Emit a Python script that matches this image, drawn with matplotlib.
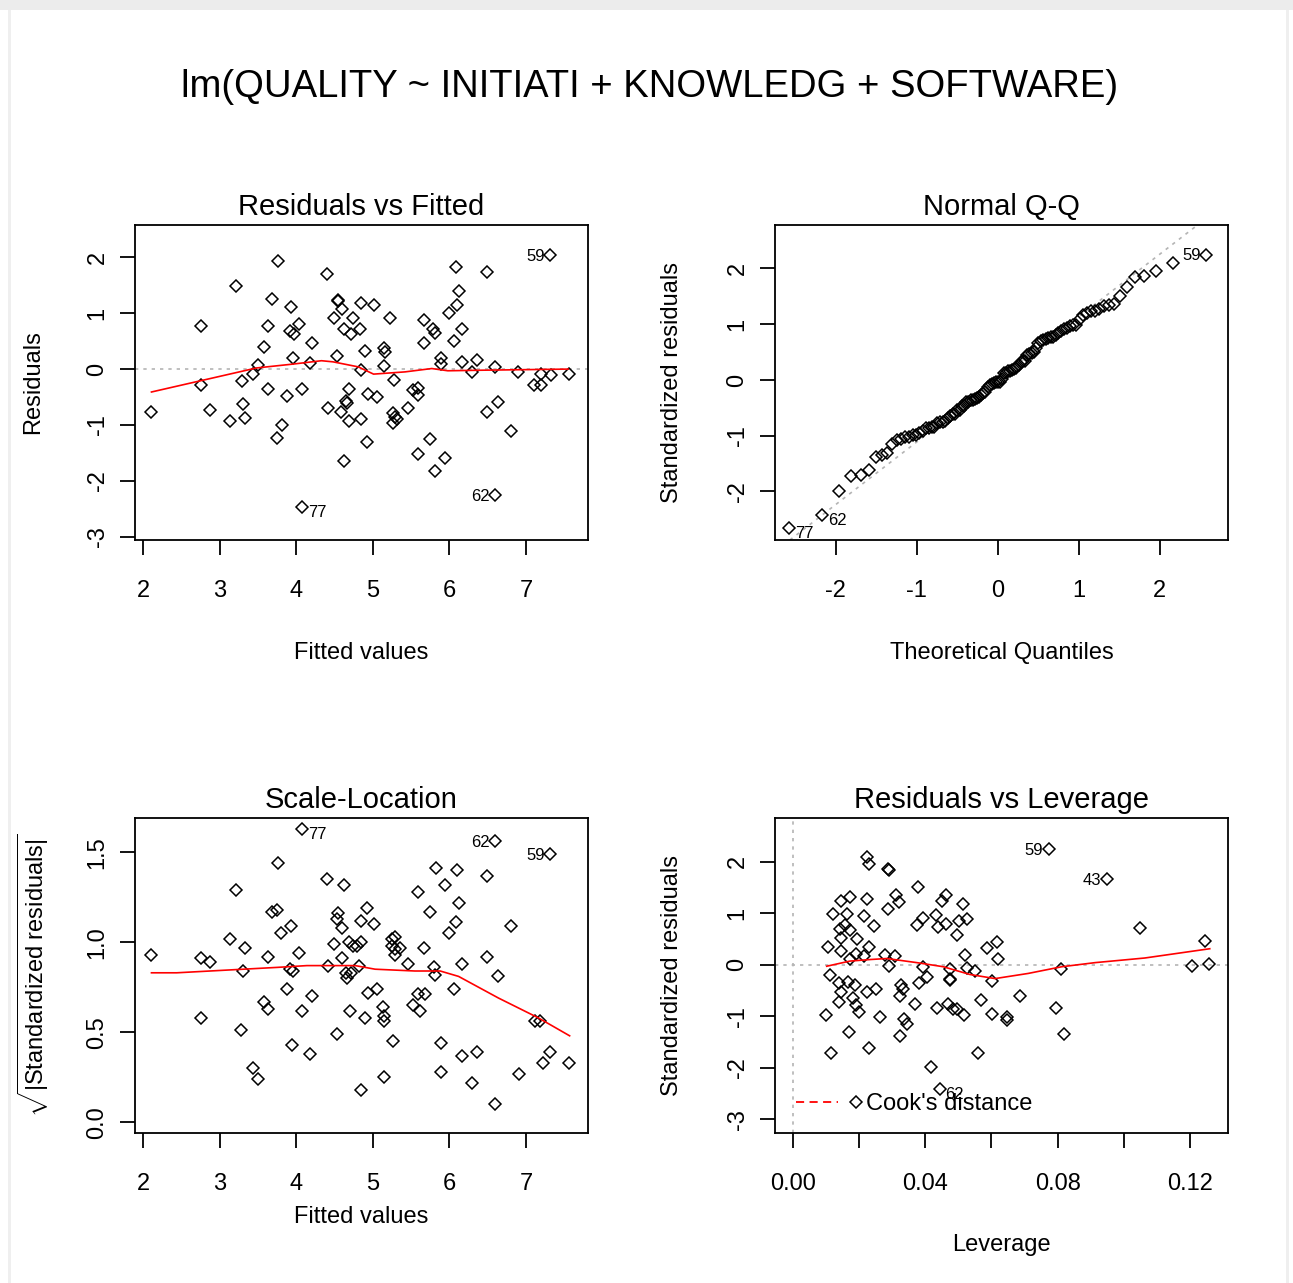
import numpy as np
import matplotlib
matplotlib.use("Agg")
import matplotlib.pyplot as plt
from matplotlib.lines import Line2D
from matplotlib.patches import Rectangle
from statistics import NormalDist

plt.rcParams["font.family"] = ["Liberation Sans", "DejaVu Sans"]
plt.rcParams["mathtext.fontset"] = "custom"
plt.rcParams["mathtext.rm"] = "Liberation Sans"
plt.rcParams["mathtext.it"] = "Liberation Sans:italic"
plt.rcParams["axes.unicode_minus"] = False

main_title = "lm(QUALITY ~ INITIATI + KNOWLEDG + SOFTWARE)"

# --- Residuals vs Fitted ---
fitted = [2.11, 2.76, 2.76, 2.88, 3.21, 3.13, 3.29, 3.31, 3.33, 3.44, 3.50, 3.58, 3.63, 3.63,
          3.68, 3.76, 3.75, 3.81, 3.88, 3.93, 3.92, 3.97, 4.03, 3.96, 4.08, 4.18, 4.20, 4.08,
          4.40, 4.42, 4.53, 4.49, 4.54, 4.55, 4.60, 4.62, 4.65, 4.66, 4.59, 4.69, 4.69, 4.63,
          4.74, 4.72,
          4.85, 5.02, 4.83, 4.90, 4.85, 4.94, 5.05, 4.85, 4.93, 5.22, 5.14, 5.16, 5.14, 5.28,
          5.26, 5.29, 5.26, 5.32, 5.46, 5.53, 5.59, 5.59, 5.67, 5.67, 5.79, 5.81, 5.75, 5.59,
          5.81, 5.94, 5.89, 5.89, 5.99, 6.10, 6.12, 6.09, 6.06, 6.17, 6.17, 6.29, 6.36, 6.49,
          6.59, 6.49, 6.64, 6.60, 6.81, 6.90, 7.11, 7.19, 7.20, 7.33, 7.56, 7.32]
resid = [-0.77, 0.77, -0.29, -0.73, 1.49, -0.93, -0.22, -0.62, -0.87, -0.09, 0.07, 0.40, 0.77, -0.35,
         1.25, 1.93, -1.24, -1.00, -0.49, 1.11, 0.68, 0.63, 0.81, 0.20, -0.35, 0.11, 0.47, -2.47,
         1.70, -0.69, 0.23, 0.91, 1.22, 1.24, 1.08, 0.71, -0.57, -0.60, -0.77, -0.35, -0.93, -1.64,
         0.91, 0.63,
         1.19, 1.14, 0.71, 0.33, -0.02, -0.44, -0.50, -0.90, -1.30, 0.91, 0.37, 0.31, 0.06, -0.19,
         -0.78, -0.85, -0.96, -0.89, -0.69, -0.38, -0.34, -0.46, 0.88, 0.47, 0.71, 0.64, -1.25, -1.52,
         -1.82, -1.59, 0.19, 0.09, 1.01, 1.14, 1.39, 1.83, 0.50, 0.71, 0.12, -0.06, 0.16, 1.73,
         0.03, -0.77, -0.59, -2.26, -1.11, -0.05, -0.29, -0.28, -0.08, -0.11, -0.08, 2.04]
rf_smooth_x = [2.11, 3.48, 3.96, 4.33, 4.48, 4.81, 5.01, 5.42, 5.77, 5.98, 6.42, 7.55]
rf_smooth_y = [-0.41, 0.02, 0.09, 0.15, 0.13, 0.04, -0.09, -0.05, 0.01, -0.03, -0.02, 0.00]
rf_labels = {"77": (4.08, -2.47), "62": (6.60, -2.26), "59": (7.32, 2.04)}

# --- Scale-Location ---
sl_fitted = [2.11, 2.76, 2.88, 2.76, 3.21, 3.13, 3.33, 3.31, 3.28, 3.44, 3.50, 3.58, 3.63, 3.63,
             3.68, 3.75, 3.76, 3.80, 3.93, 4.03, 3.92, 3.96, 3.88, 4.08, 3.95, 4.18, 4.20, 4.08,
             4.40, 4.62, 4.42, 4.49, 4.53, 4.55, 4.60, 4.60, 4.69, 4.74, 4.65, 4.66, 4.72, 4.70,
             4.53,
             4.85, 4.93, 5.02, 4.85, 4.79, 4.82, 4.94, 5.05, 4.90, 4.85, 5.13, 5.15, 5.15, 5.27,
             5.15, 5.25, 5.29, 5.25, 5.29, 5.35, 5.29, 5.46, 5.67, 5.59, 5.75, 5.82, 5.94, 6.10,
             6.12, 6.09, 6.00, 6.49, 5.80, 5.81, 6.17, 6.06, 6.49, 6.64, 6.81, 5.53, 5.59, 5.68,
             5.61, 5.89, 5.89, 6.17, 6.36, 6.29, 6.60, 6.60, 7.32, 6.91, 7.12, 7.18, 7.22, 7.32,
             7.56]
sl_sqrt = [0.93, 0.91, 0.89, 0.58, 1.29, 1.02, 0.97, 0.84, 0.51, 0.30, 0.24, 0.67, 0.63, 0.92,
           1.17, 1.18, 1.44, 1.05, 1.09, 0.94, 0.85, 0.84, 0.74, 0.62, 0.43, 0.38, 0.70, 1.63,
           1.35, 1.32, 0.87, 0.99, 1.13, 1.16, 1.08, 0.91, 1.00, 0.98, 0.83, 0.80, 0.83, 0.62,
           0.49,
           1.12, 1.19, 1.10, 1.00, 0.98, 0.87, 0.72, 0.74, 0.58, 0.18, 0.64, 0.59, 0.56, 0.45,
           0.25, 1.02, 1.03, 0.98, 0.96, 0.97, 0.93, 0.88, 0.97, 1.28, 1.17, 1.41, 1.32, 1.40,
           1.22, 1.11, 1.05, 1.37, 0.86, 0.82, 0.88, 0.74, 0.92, 0.81, 1.09, 0.65, 0.71, 0.71,
           0.62, 0.44, 0.28, 0.37, 0.39, 0.22, 0.10, 1.56, 1.49, 0.27, 0.56, 0.56, 0.33, 0.39,
           0.33]
sl_smooth_x = [2.11, 2.44, 3.31, 3.75, 4.14, 4.61, 4.77, 5.03, 5.55, 5.88, 6.12, 6.64, 7.16, 7.57]
sl_smooth_y = [0.83, 0.83, 0.85, 0.86, 0.87, 0.87, 0.87, 0.85, 0.84, 0.84, 0.81, 0.69, 0.58, 0.48]
sl_labels = {"77": (4.08, 1.63), "62": (6.60, 1.56), "59": (7.32, 1.49)}

# --- Residuals vs Leverage ---
leverage = [0.0226, 0.0232, 0.0289, 0.0290, 0.0378, 0.0173, 0.0146, 0.0226, 0.0312, 0.0321,
            0.0289, 0.0123, 0.0164, 0.0217, 0.0246, 0.0143, 0.0158, 0.0173, 0.0145, 0.0194,
            0.0108, 0.0145, 0.0192, 0.0232, 0.0173, 0.0217, 0.0279, 0.0309, 0.0292, 0.0113,
            0.0141, 0.0168, 0.0189, 0.0146, 0.0141, 0.0182, 0.0192, 0.0199, 0.0226, 0.0252,
            0.0101, 0.0170, 0.0117, 0.0232, 0.0264, 0.0327, 0.0334, 0.0324, 0.0336, 0.0346,
            0.0324, 0.0370, 0.0376, 0.0395, 0.0395, 0.0405, 0.0383, 0.0433, 0.0440, 0.0463,
            0.0450, 0.0463, 0.0513, 0.0503, 0.0527, 0.0497, 0.0520, 0.0475, 0.0475, 0.0476,
            0.0527, 0.0551, 0.0601, 0.0586, 0.0616, 0.0621, 0.0437, 0.0468, 0.0483, 0.0495,
            0.0518, 0.0569, 0.0601, 0.0560, 0.0418, 0.0445, 0.0192, 0.0646, 0.0646, 0.0686,
            0.0774, 0.0948, 0.1048, 0.0795, 0.0809, 0.0820, 0.1244, 0.1204, 0.1256]
std_resid = [2.10, 1.96, 1.86, 1.84, 1.50, 1.32, 1.23, 1.27, 1.35, 1.21,
             1.09, 0.99, 0.99, 0.94, 0.75, 0.70, 0.77, 0.67, 0.51, 0.49,
             0.34, 0.26, 0.21, 0.34, 0.12, 0.17, 0.18, 0.17, -0.03, -0.21,
             -0.35, -0.34, -0.39, -0.53, -0.73, -0.65, -0.78, -0.92, -0.54, -0.47,
             -0.98, -1.31, -1.72, -1.61, -1.02, -0.39, -0.47, -0.61, -1.05, -1.15,
             -1.39, -0.76, 0.77, 0.91, -0.04, -0.24, -0.36, 0.97, 0.73, 0.80,
             1.23, 1.36, 1.17, 0.84, 0.88, 0.57, 0.19, -0.08, -0.27, -0.30,
             -0.06, -0.13, -0.32, 0.32, 0.44, 0.12, -0.84, -0.76, -0.86, -0.86,
             -0.98, -0.69, -0.95, -1.71, -1.99, -2.42, -2.66, -1.02, -1.08, -0.61,
             2.25, 1.67, 0.71, -0.84, -0.09, -1.35, 0.46, -0.03, 0.01]
rl_smooth_x = [0.0103, 0.0173, 0.0234, 0.0284, 0.0375, 0.0455, 0.0535, 0.0611, 0.0711,
               0.0812, 0.0913, 0.1063, 0.1259]
rl_smooth_y = [-0.03, 0.07, 0.10, 0.12, 0.04, -0.04, -0.19, -0.27, -0.17, -0.04, 0.04, 0.13, 0.31]
rl_labels = {"59": (0.0774, 2.25), "43": (0.0948, 1.67), "62": (0.0445, -2.42)}

W, H = 1293, 1283
fig = plt.figure(figsize=(W / 100, H / 100), dpi=100)
fig.patch.set_facecolor("white")
fig.patches.append(Rectangle((0, 1 - 10 / H), 1, 10 / H, transform=fig.transFigure,
                             facecolor="#ececec", edgecolor="none"))
fig.patches.append(Rectangle((8 / W, 0), 3 / W, 1 - 10 / H, transform=fig.transFigure,
                             facecolor="#efefef", edgecolor="none"))
fig.patches.append(Rectangle((1286 / W, 0), 3 / W, 1 - 10 / H, transform=fig.transFigure,
                             facecolor="#efefef", edgecolor="none"))

fig.text(650 / W, 1 - 87 / H, main_title, fontsize=27.5, ha="center", va="center")


def panel(l, t, r, b):
    return fig.add_axes([l / W, 1 - b / H, (r - l) / W, (b - t) / H])


def style(ax, title, xlabel, ylabel, xlab_top, ylab_x):
    ax.set_title(title, fontsize=21, pad=7)
    for s in ax.spines.values():
        s.set_linewidth(1.3)
    ax.tick_params(direction="out", length=11, width=1.3, labelsize=17)
    ax.tick_params(axis="x", pad=18)
    ax.tick_params(axis="y", pad=8, labelrotation=90)
    for lbl in ax.get_yticklabels():
        lbl.set_va("center")
    ax.set_xlabel(xlabel, fontsize=17)
    ax.set_ylabel(ylabel, fontsize=17)
    ax.xaxis.set_label_coords(0.5, xlab_top)
    ax.yaxis.set_label_coords(ylab_x, 0.5)
    ax.yaxis.label.set_va("center")


def points(ax, x, y):
    ax.plot(x, y, linestyle="none", marker="D", markersize=6.5, markerfacecolor="none",
            markeredgecolor="black", markeredgewidth=1.1)


def tag(ax, labels, right):
    for s, (x, y) in labels.items():
        if s in right:
            ax.annotate(s, (x, y), xytext=(4, -4), textcoords="offset points",
                        ha="left", va="center", fontsize=12)
        else:
            ax.annotate(s, (x, y), xytext=(-4, -1), textcoords="offset points",
                        ha="right", va="center", fontsize=12)


ref = dict(color="#b4b4b4", linestyle=(0, (2, 3)), linewidth=1.2)

# Residuals vs Fitted
ax1 = panel(135, 225, 588, 540)
ax1.axhline(0, **ref)
points(ax1, fitted, resid)
ax1.plot(rf_smooth_x, rf_smooth_y, color="red", linewidth=1.2)
tag(ax1, rf_labels, right=["77"])
ax1.set_xlim(1.895, 7.81)
ax1.set_ylim(-3.06, 2.58)
ax1.set_xticks([2, 3, 4, 5, 6, 7])
ax1.set_yticks([-3, -2, -1, 0, 1, 2])
style(ax1, "Residuals vs Fitted", "Fitted values", "Residuals", -0.325, -0.225)

# Normal Q-Q
ax2 = panel(775, 225, 1228, 540)
sample = np.sort(np.array(std_resid))
n = len(sample)
theo = np.array([NormalDist().inv_cdf((i + 0.5) / n) for i in range(n)])
q1, q3 = np.quantile(sample, [0.25, 0.75])
z1, z3 = NormalDist().inv_cdf(0.25), NormalDist().inv_cdf(0.75)
slope = (q3 - q1) / (z3 - z1)
ax2.axline((z1, q1), slope=slope, **ref)
points(ax2, theo, sample)
qq_labels = {"77": (theo[0], sample[0]), "62": (theo[1], sample[1]), "59": (theo[-1], sample[-1])}
tag(ax2, qq_labels, right=["77", "62"])
ax2.set_xlim(-2.75, 2.84)
ax2.set_ylim(-2.87, 2.78)
ax2.set_xticks([-2, -1, 0, 1, 2])
ax2.set_yticks([-2, -1, 0, 1, 2])
style(ax2, "Normal Q-Q", "Theoretical Quantiles", "Standardized residuals", -0.325, -0.227)

# Scale-Location
ax3 = panel(135, 818, 588, 1133)
points(ax3, sl_fitted, sl_sqrt)
ax3.plot(sl_smooth_x, sl_smooth_y, color="red", linewidth=1.2)
tag(ax3, sl_labels, right=["77"])
ax3.set_xlim(1.895, 7.81)
ax3.set_ylim(-0.06, 1.69)
ax3.set_xticks([2, 3, 4, 5, 6, 7])
ax3.set_yticks([0.0, 0.5, 1.0, 1.5])
ax3.set_yticklabels(["0.0", "0.5", "1.0", "1.5"])
style(ax3, "Scale-Location", "Fitted values",
      r"$\sqrt{|\mathrm{Standardized\ residuals}|}$", -0.232, -0.225)

# Residuals vs Leverage
ax4 = panel(775, 818, 1228, 1133)
ax4.axhline(0, **ref)
ax4.axvline(0, **ref)
points(ax4, leverage, std_resid)
ax4.plot(rl_smooth_x, rl_smooth_y, color="red", linewidth=1.2)
tag(ax4, rl_labels, right=["62"])
ax4.set_xlim(-0.0053, 0.1314)
ax4.set_ylim(-3.27, 2.85)
ax4.set_xticks([0.00, 0.02, 0.04, 0.06, 0.08, 0.10, 0.12])
ax4.set_xticklabels(["0.00", "", "0.04", "", "0.08", "", "0.12"])
ax4.set_yticks([-3, -2, -1, 0, 1, 2])
style(ax4, "Residuals vs Leverage", "Leverage", "Standardized residuals", -0.32, -0.227)
cook = Line2D([], [], color="red", linestyle=(0, (4.5, 3)), linewidth=1.3)
ax4.legend([cook], ["Cook's distance"], loc="center left", bbox_to_anchor=(0.047, 0.092),
           frameon=False, fontsize=17, handlelength=1.75, handletextpad=1.2,
           borderpad=0, borderaxespad=0)

fig.savefig("out.png", dpi=100)
